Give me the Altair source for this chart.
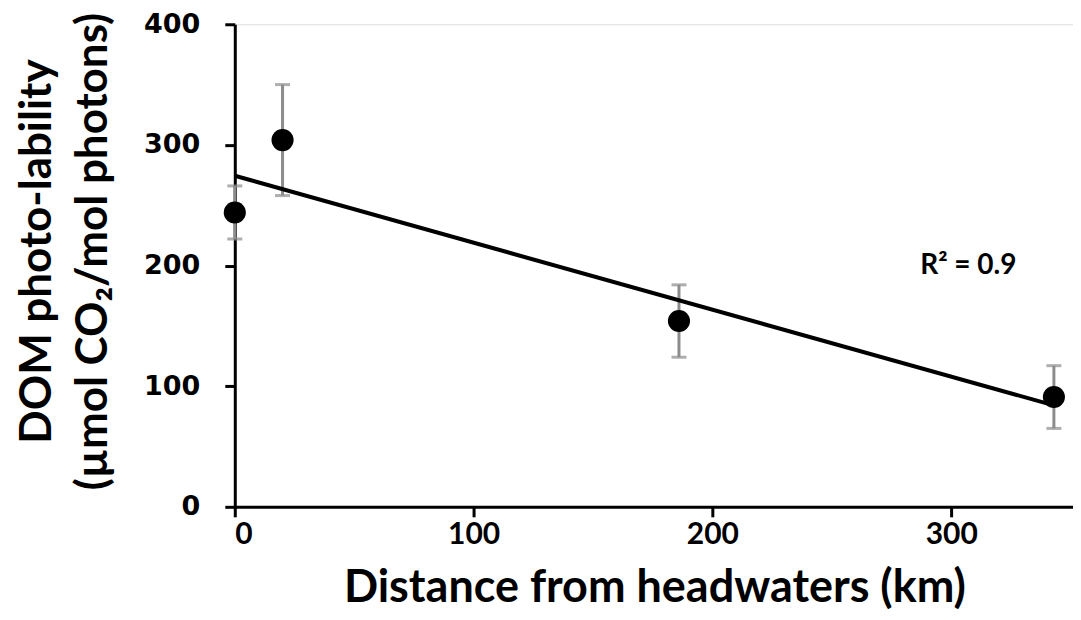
import altair as alt
import pandas as pd

# Data
distance_km = [0, 20, 186, 343]
photo_lability = [244, 304, 154, 91]
error = [22, 46, 30, 26]

df = pd.DataFrame({
    "distance": distance_km,
    "lability": photo_lability,
    "err": error,
})
df["low"] = df["lability"] - df["err"]
df["high"] = df["lability"] + df["err"]

x_scale = alt.Scale(domain=[0, 351], nice=False, zero=False)
y_scale = alt.Scale(domain=[0, 400], nice=False)

x_axis = alt.Axis(
    values=[0, 100, 200, 300], grid=False,
    domainColor="black", domainWidth=3, tickColor="black", tickWidth=3, tickSize=10,
    labelFont="Lato", labelFontWeight="bold", labelFontSize=30, labelColor="black",
    labelPadding=3,
    title="Distance from headwaters (km)", titleFont="Lato", titleFontWeight="bold",
    titleFontSize=45, titleColor="black", titleBaseline="alphabetic",
    titleY=95, titleX=420,
)
y_axis = alt.Axis(
    values=[0, 100, 200, 300, 400], grid=False,
    domainColor="black", domainWidth=3, tickColor="black", tickWidth=3, tickSize=10,
    labelFont="DejaVu Sans", labelFontWeight="bold", labelFontSize=27, labelColor="black",
    labelPadding=25,
    title=["DOM photo-lability", "(µmol CO₂/mol photons)"], titleFont="Lato",
    titleFontWeight="bold", titleFontSize=44, titleColor="black",
    titleAngle=-90, titleBaseline="top", titleAlign="center",
    titleX=-219, titleY=227, titleLineHeight=56,
)

base = alt.Chart(df)

bars = base.mark_rule(color="#8c8c8c", strokeWidth=3).encode(
    x=alt.X("distance:Q", scale=x_scale, axis=x_axis),
    y=alt.Y("low:Q", scale=y_scale, axis=y_axis),
    y2="high:Q",
)
caps_hi = base.mark_tick(color="#8c8c8c", thickness=3, size=15, orient="horizontal").encode(
    x=alt.X("distance:Q", scale=x_scale),
    y=alt.Y("high:Q", scale=y_scale),
)
caps_lo = base.mark_tick(color="#8c8c8c", thickness=3, size=15, orient="horizontal").encode(
    x=alt.X("distance:Q", scale=x_scale),
    y=alt.Y("low:Q", scale=y_scale),
)
trend = base.transform_regression("distance", "lability").mark_line(
    color="black", strokeWidth=4
).encode(
    x=alt.X("distance:Q", scale=x_scale),
    y=alt.Y("lability:Q", scale=y_scale),
)
points = base.mark_circle(color="black", opacity=1, size=490).encode(
    x=alt.X("distance:Q", scale=x_scale),
    y=alt.Y("lability:Q", scale=y_scale),
)
r2 = alt.Chart(pd.DataFrame({"label": ["R² = 0.9"]})).mark_text(
    font="Lato", fontWeight="bold", fontSize=28, color="black",
    align="left", baseline="middle",
).encode(
    x=alt.datum(287, scale=x_scale),
    y=alt.datum(200, scale=y_scale),
    text="label:N",
)

chart = alt.layer(bars, caps_hi, caps_lo, trend, points, r2).properties(
    width=839, height=483,
    autosize=alt.AutoSizeParams(type="none"),
    padding={"left": 227, "top": 16, "right": 0, "bottom": 105},
).configure_view(stroke=None).configure(background="white")

chart.save("out.html", embed_options={"renderer": "svg", "actions": False})
